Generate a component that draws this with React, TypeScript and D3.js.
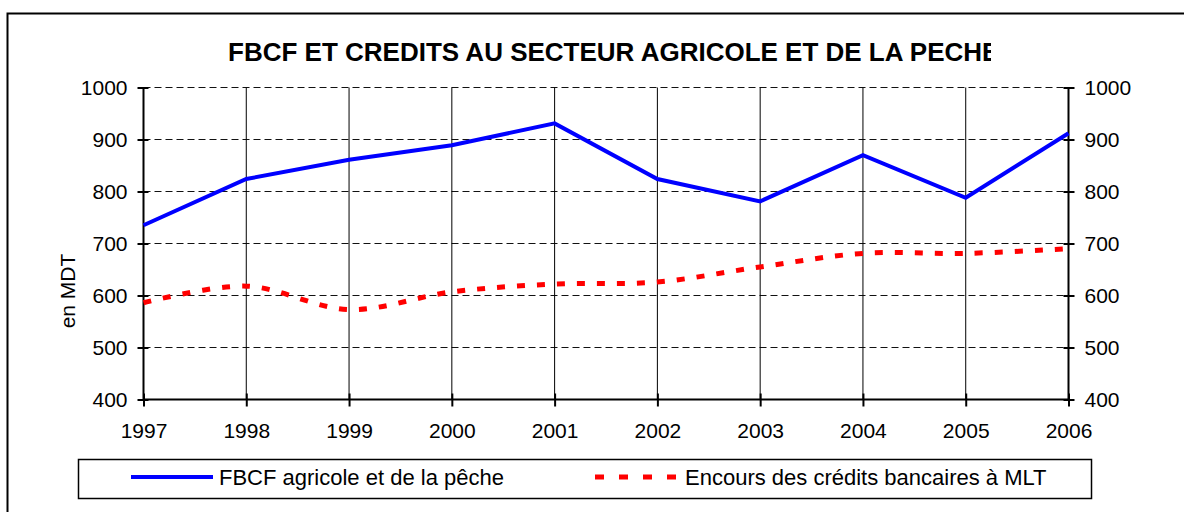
import React, { useEffect, useRef } from "react";
import * as d3 from "d3";

const years = [1997, 1998, 1999, 2000, 2001, 2002, 2003, 2004, 2005, 2006];
const fbcf = [735, 824, 861, 889, 931, 824, 781, 870, 788, 912];
const credits = [586, 618, 573, 607, 622, 626, 655, 681, 681, 690];
const yTicks = [400, 500, 600, 700, 800, 900, 1000];
const seriesNames = ["FBCF agricole et de la pêche", "Encours des crédits bancaires à MLT"];
const title = "FBCF ET CREDITS AU SECTEUR AGRICOLE ET DE LA PECHE";

const W = 1184;
const H = 512;
const FONT = "'Liberation Sans', Arial, sans-serif";

export default function App() {
  const ref = useRef<SVGSVGElement | null>(null);

  useEffect(() => {
    const svg = d3.select(ref.current);
    svg.selectAll("*").remove();

    const x = d3.scaleLinear().domain([1997, 2006]).range([143.5, 1068.5]);
    const y = d3.scaleLinear().domain([400, 1000]).range([399.5, 87.5]);

    // outer frame (runs off the page on the right and bottom)
    svg.append("rect")
      .attr("x", 7.5).attr("y", 13.5)
      .attr("width", W).attr("height", H)
      .attr("fill", "white").attr("stroke", "black").attr("stroke-width", 2);

    svg.append("clipPath").attr("id", "titleClip")
      .append("rect").attr("x", 0).attr("y", 0).attr("width", 991).attr("height", 80);

    svg.append("text")
      .attr("clip-path", "url(#titleClip)")
      .attr("x", 228).attr("y", 61)
      .attr("font-family", FONT).attr("font-weight", "bold").attr("font-size", 26)
      .text(title);

    const g = svg.append("g");

    // horizontal dashed grid
    g.selectAll("line.hgrid")
      .data(yTicks.filter((d) => d > 400))
      .enter().append("line")
      .attr("x1", x(1997)).attr("x2", x(2006))
      .attr("y1", (d) => y(d)).attr("y2", (d) => y(d))
      .attr("stroke", "#111").attr("stroke-width", 1)
      .attr("stroke-dasharray", "7,4");

    // vertical grid
    g.selectAll("line.vgrid")
      .data(years.slice(1, -1))
      .enter().append("line")
      .attr("x1", (d) => x(d)).attr("x2", (d) => x(d))
      .attr("y1", y(1000)).attr("y2", y(400))
      .attr("stroke", "black").attr("stroke-width", 1);

    const yLeft = d3.axisLeft(y).tickValues(yTicks).tickSize(6).tickPadding(10)
      .tickFormat((d) => String(d));
    const yRight = d3.axisRight(y).tickValues(yTicks).tickSize(6).tickPadding(10)
      .tickFormat((d) => String(d));
    const xBottom = d3.axisBottom(x).tickValues(years).tickSize(7).tickPadding(18)
      .tickFormat((d) => String(d));

    const styleAxis = (sel: d3.Selection<SVGGElement, unknown, null, undefined>) => {
      sel.selectAll("path.domain").attr("stroke", "black").attr("stroke-width", 2);
      sel.selectAll("text").attr("font-family", FONT).attr("font-size", 21).attr("fill", "black");
      sel.selectAll(".tick line").attr("stroke", "black").attr("stroke-width", 2);
    };

    const gl = g.append("g").attr("transform", `translate(${x(1997)},0)`).call(yLeft);
    gl.select("path.domain").attr("d", `M0,${y(1000)}V${y(400)}`);
    gl.selectAll(".tick line").attr("x2", -6).attr("x1", 5);
    styleAxis(gl as any);

    const gr = g.append("g").attr("transform", `translate(${x(2006)},0)`).call(yRight);
    gr.select("path.domain").attr("d", `M0,${y(1000)}V${y(400)}`);
    gr.selectAll(".tick line").attr("x1", -5).attr("x2", 6);
    styleAxis(gr as any);

    const gb = g.append("g").attr("transform", `translate(0,${y(400)})`).call(xBottom);
    gb.select("path.domain").attr("d", `M${x(1997)},0H${x(2006)}`);
    gb.selectAll(".tick line").attr("y1", -6).attr("y2", 7);
    styleAxis(gb as any);
    gb.selectAll("text").attr("dy", "0.71em").attr("y", 24);

    // y label
    svg.append("text")
      .attr("transform", `translate(75,291) rotate(-90)`)
      .attr("text-anchor", "middle")
      .attr("font-family", FONT).attr("font-size", 21)
      .text("en MDT");

    const idx = years.map((_, i) => i);

    const blueLine = d3.line<number>()
      .x((i) => x(years[i]))
      .y((i) => y(fbcf[i]));
    g.append("path")
      .attr("d", blueLine(idx) as string)
      .attr("fill", "none").attr("stroke", "#0000ff").attr("stroke-width", 4)
      .attr("stroke-linejoin", "miter");

    const redLine = d3.line<number>()
      .x((i) => x(years[i]))
      .y((i) => y(credits[i]))
      .curve(d3.curveCardinal.tension(0));
    g.append("path")
      .attr("d", redLine(idx) as string)
      .attr("fill", "none").attr("stroke", "#ff0000").attr("stroke-width", 5)
      .attr("stroke-dasharray", "8,12");

    // legend
    const lg = svg.append("g");
    lg.append("rect")
      .attr("x", 78.5).attr("y", 459.5).attr("width", 1013).attr("height", 39)
      .attr("fill", "white").attr("stroke", "black").attr("stroke-width", 1.5);
    lg.append("line")
      .attr("x1", 131).attr("x2", 213).attr("y1", 477).attr("y2", 477)
      .attr("stroke", "#0000ff").attr("stroke-width", 4);
    lg.append("text")
      .attr("x", 219).attr("y", 484.5)
      .attr("font-family", FONT).attr("font-size", 22)
      .text(seriesNames[0]);
    lg.append("line")
      .attr("x1", 595).attr("x2", 677).attr("y1", 477).attr("y2", 477)
      .attr("stroke", "#ff0000").attr("stroke-width", 5)
      .attr("stroke-dasharray", "9,15");
    lg.append("text")
      .attr("x", 685).attr("y", 484.5)
      .attr("font-family", FONT).attr("font-size", 22)
      .text(seriesNames[1]);
  }, []);

  return (
    <svg
      ref={ref}
      width={W}
      height={H}
      style={{ position: "fixed", left: 0, top: 0, background: "white" }}
    />
  );
}
